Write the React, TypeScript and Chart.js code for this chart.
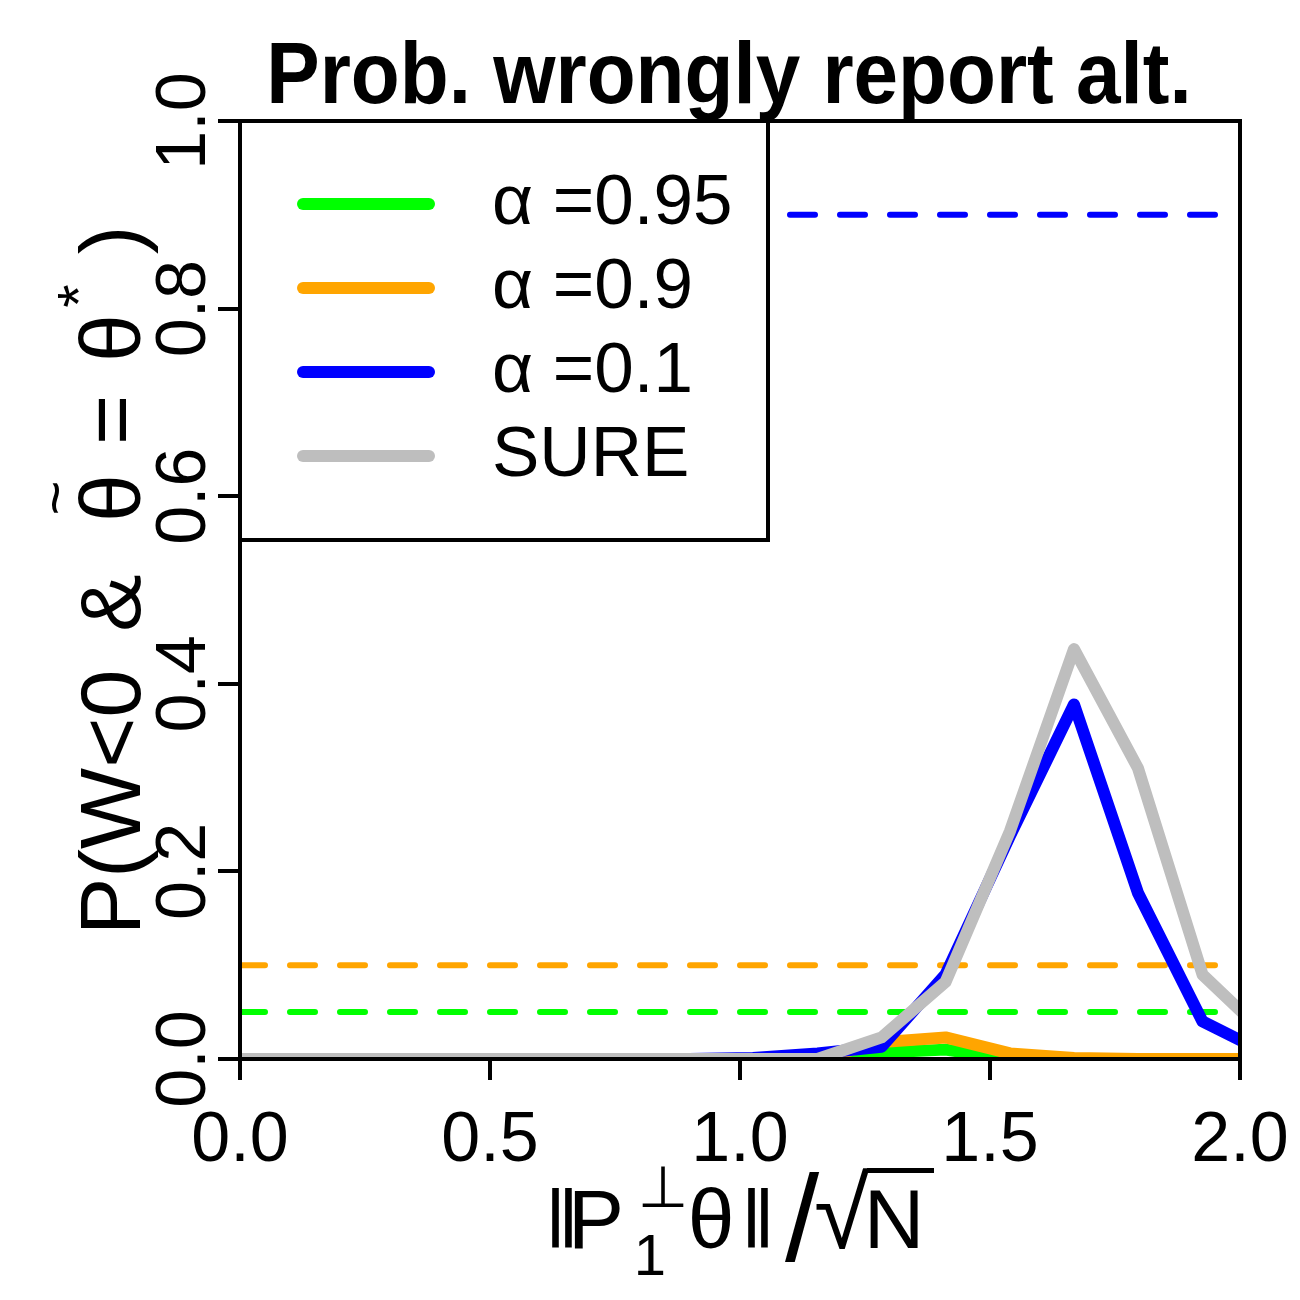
import React, { useEffect, useRef } from 'react';
import { Chart, registerables } from 'chart.js';

Chart.register(...registerables);

const FONT = "'Liberation Sans', Arial, Helvetica, sans-serif";

// x positions of the simulated grid
const xValues = [0, 0.128, 0.257, 0.385, 0.513, 0.642, 0.77, 0.898, 1.026, 1.155, 1.283, 1.411, 1.54, 1.668, 1.796, 1.925, 2.053];
const green95 = [0, 0, 0, 0, 0, 0, 0, 0, 0, 0, 0.007, 0.01, 0, 0, 0, 0, 0];
const orange90 = [0, 0, 0, 0, 0, 0, 0, 0, 0, 0, 0.018, 0.023, 0.006, 0.001, 0, 0, 0];
const blue10 = [0, 0, 0, 0, 0, 0, 0, 0, 0.001, 0.006, 0.013, 0.09, 0.238, 0.378, 0.177, 0.04, 0.006];
const sure = [0, 0, 0, 0, 0, 0, 0, 0, 0, 0, 0.023, 0.082, 0.243, 0.437, 0.31, 0.09, 0.025];

const seriesLabels = ['α =0.95', 'α =0.9', 'α =0.1', 'SURE'];
const seriesColors = ['#00FF00', '#FFA500', '#0000FF', '#BEBEBE'];
const seriesValues = [green95, orange90, blue10, sure];
const seriesOrder = [3, 2, 1, 0];

const refLevels = [0.05, 0.1, 0.9];
const refColors = ['#00FF00', '#FFA500', '#0000FF'];

const xTicks = [0, 0.5, 1, 1.5, 2];
const yTicks = [0, 0.2, 0.4, 0.6, 0.8, 1.0];
const xRange = [0, 2];
const yRange = [0, 1];

const titleText = 'Prob. wrongly report alt.';

// draw a glyph scaled so its ink box fits the given top/bottom, left-aligned at `left`
function drawFit(ctx: CanvasRenderingContext2D, text: string, family: string, left: number, top: number, bottom: number) {
  ctx.textAlign = 'left';
  ctx.textBaseline = 'alphabetic';
  const s0 = 100;
  ctx.font = `${s0}px ${family}`;
  const m = ctx.measureText(text);
  const h0 = m.actualBoundingBoxAscent + m.actualBoundingBoxDescent;
  const size = (s0 * (bottom - top)) / (h0 || 1);
  ctx.font = `${size}px ${family}`;
  const m2 = ctx.measureText(text);
  ctx.fillText(text, left + m2.actualBoundingBoxLeft, top + m2.actualBoundingBoxAscent);
  return left + m2.actualBoundingBoxLeft + m2.actualBoundingBoxRight;
}

const framePlugin = {
  id: 'frameLegend',
  afterDatasetsDraw(chart: any) {
    const { ctx, chartArea: a } = chart;
    ctx.save();
    ctx.lineWidth = 4;
    ctx.strokeStyle = '#000';
    ctx.lineJoin = 'miter';
    ctx.strokeRect(a.left, a.top, a.right - a.left, a.bottom - a.top);
    // legend box
    const bx = a.left, by = a.top, bw = 528, bh = 419;
    ctx.fillStyle = '#fff';
    ctx.fillRect(bx, by, bw, bh);
    ctx.strokeRect(bx, by, bw, bh);
    seriesLabels.forEach((lab, i) => {
      const y = by + 83 + i * 84;
      ctx.strokeStyle = seriesColors[i];
      ctx.lineWidth = 12;
      ctx.lineCap = 'round';
      ctx.beginPath();
      ctx.moveTo(bx + 63, y);
      ctx.lineTo(bx + 189, y);
      ctx.stroke();
      ctx.fillStyle = '#000';
      ctx.font = `71px ${FONT}`;
      ctx.textBaseline = 'middle';
      ctx.textAlign = 'left';
      ctx.fillText(lab, bx + 252, y);
    });
    ctx.restore();
  },
  afterDraw(chart: any) {
    const { ctx } = chart;
    ctx.save();
    ctx.fillStyle = '#000';
    // title
    ctx.save();
    ctx.font = `bold 88px ${FONT}`;
    ctx.textAlign = 'center';
    ctx.textBaseline = 'alphabetic';
    ctx.translate(729, 103);
    ctx.scale(0.91, 1);
    ctx.fillText(titleText, 0, 0);
    ctx.restore();

    // x axis title: ‖P⊥1 θ‖/√N
    const base = 1248;
    drawFit(ctx, '‖', `${FONT}, 'DejaVu Sans'`, 552, 1188, base);
    ctx.font = `84px ${FONT}`;
    ctx.textAlign = 'center';
    ctx.textBaseline = 'alphabetic';
    ctx.fillText('P', 596, base);
    ctx.font = `58px 'DejaVu Sans'`;
    ctx.fillText('⊥', 663, 1207);
    ctx.font = `58px ${FONT}`;
    ctx.fillText('1', 650, 1275);
    ctx.font = `84px ${FONT}`;
    ctx.fillText('θ', 711, base);
    drawFit(ctx, '‖', `${FONT}, 'DejaVu Sans'`, 748, 1188, base);
    drawFit(ctx, '/', FONT, 785, 1172, 1263);
    const sqrtRight = drawFit(ctx, '√', `${FONT}, 'DejaVu Sans'`, 816, 1168, 1250);
    ctx.font = `84px ${FONT}`;
    ctx.textAlign = 'center';
    ctx.textBaseline = 'alphabetic';
    ctx.fillText('N', 894, base);
    ctx.lineWidth = 5;
    ctx.strokeStyle = '#000';
    ctx.beginPath();
    ctx.moveTo(sqrtRight - 3, 1170.5);
    ctx.lineTo(934, 1170.5);
    ctx.stroke();

    // y axis title (rotated)
    ctx.save();
    ctx.translate(140, 0);
    ctx.rotate(-Math.PI / 2);
    ctx.font = `86px ${FONT}`;
    ctx.textBaseline = 'alphabetic';
    ctx.textAlign = 'left';
    ctx.fillText('P(W<0', -935, 0);
    ctx.textAlign = 'center';
    ctx.fillText('&', -603, 0);
    ctx.fillText('θ', -498, 0);
    ctx.fillText('=', -420, 0);
    ctx.fillText('θ', -338, 0);
    ctx.fillText(')', -240, 0);
    ctx.font = `60px ${FONT}`;
    ctx.textBaseline = 'middle';
    ctx.fillText('~', -498, -82);
    ctx.textBaseline = 'alphabetic';
    ctx.fillText('*', -296, -41);
    ctx.restore();
    ctx.restore();
  },
};

export default function App() {
  const ref = useRef<HTMLCanvasElement | null>(null);
  useEffect(() => {
    if (!ref.current) return;
    const refSets = refLevels.map((lv, i) => ({
      label: 'ref' + i,
      data: xRange.map((x) => ({ x, y: lv })),
      borderColor: refColors[i],
      borderWidth: 6,
      borderDash: [25, 25],
      borderCapStyle: 'round',
      pointRadius: 0,
      fill: false,
      order: 10 + i,
      clip: 0,
    }));
    const curveSets = seriesValues.map((vals, i) => ({
      label: seriesLabels[i],
      data: xValues.map((x, k) => ({ x, y: vals[k] })),
      borderColor: seriesColors[i],
      borderWidth: 12,
      borderCapStyle: 'round',
      borderJoinStyle: 'round',
      pointRadius: 0,
      tension: 0,
      fill: false,
      order: seriesOrder[i],
      clip: 0,
    }));
    const chart = new Chart(ref.current, {
      type: 'line',
      data: { datasets: [...curveSets, ...refSets] as any },
      plugins: [framePlugin],
      options: {
        animation: false,
        responsive: false,
        devicePixelRatio: 1,
        layout: { padding: { top: 121, right: 60, left: 0, bottom: 0 } },
        plugins: { legend: { display: false }, title: { display: false }, tooltip: { enabled: false } },
        scales: {
          x: {
            type: 'linear',
            min: xRange[0],
            max: xRange[1],
            afterBuildTicks: (s: any) => { s.ticks = xTicks.map((v) => ({ value: v })); },
            afterFit: (s: any) => { s.height = 241; s.paddingLeft = 0; s.paddingRight = 0; },
            grid: { drawOnChartArea: false, drawTicks: true, tickLength: 21, lineWidth: 4, color: '#000' },
            border: { display: true, color: '#000', width: 4 },
            ticks: {
              autoSkip: false,
              maxRotation: 0,
              minRotation: 0,
              padding: 20,
              color: '#000',
              font: { family: FONT, size: 70 },
              callback: (v: any) => Number(v).toFixed(1),
            },
          },
          y: {
            type: 'linear',
            min: yRange[0],
            max: yRange[1],
            afterBuildTicks: (s: any) => { s.ticks = yTicks.map((v) => ({ value: v })); },
            afterFit: (s: any) => { s.width = 240; s.paddingTop = 0; s.paddingBottom = 0; },
            grid: { drawOnChartArea: false, drawTicks: true, tickLength: 22, lineWidth: 4, color: '#000' },
            border: { display: true, color: '#000', width: 4 },
            ticks: {
              autoSkip: false,
              minRotation: 90,
              maxRotation: 90,
              crossAlign: 'center',
              padding: -16,
              color: '#000',
              font: { family: FONT, size: 70 },
              callback: (v: any) => Number(v).toFixed(1),
            },
          },
        },
      } as any,
    });
    return () => chart.destroy();
  }, []);
  return (
    <div style={{ position: 'absolute', left: 0, top: 0, width: 1300, height: 1300, background: '#fff' }}>
      <canvas ref={ref} width={1300} height={1300} style={{ width: 1300, height: 1300, display: 'block' }} />
    </div>
  );
}
